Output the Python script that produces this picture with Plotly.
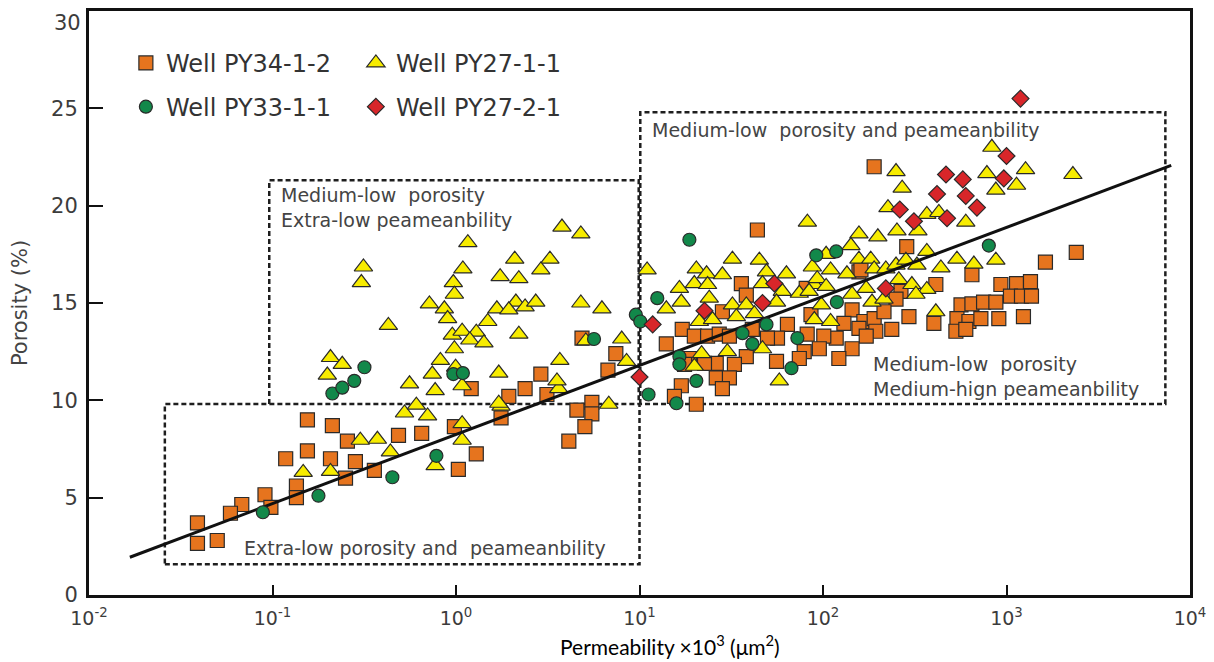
import plotly.graph_objects as go

# ---------------- data (permeability x10^3 um^2, porosity %) ----------------
py34_k = [0.155, 0.212, 0.256, 0.118, 0.155, 0.207, 0.283, 0.250, 0.359, 0.135, 0.135, 0.091,
          0.098, 0.068, 0.059, 0.039, 0.039, 0.050, 0.486, 0.65, 0.98, 1.29, 1.03, 1.21, 1.94,
          2.38, 3.13, 1.76, 4.56, 5.5, 5.5, 5.04, 4.12, 4.86, 7.43, 6.73, 2.90, 35.9, 38.2, 28.3,
          17.1, 14.0, 19.9, 23.5, 27.2, 30.9, 41.2, 64, 56.5, 82, 86, 79, 55.8, 38.2, 32.9, 26.2,
          22.6, 26.2, 30.9, 28.3, 18.7, 16.9, 15.5, 20.4, 17.6, 74.3, 49.8, 157, 266, 412, 648,
          250, 81, 144, 167, 190, 215, 294, 157, 194, 237, 130, 118, 101, 172, 95.5, 144, 122,
          565, 648, 750, 875, 537, 624, 725, 530, 600, 402, 932, 1134, 1351, 1051, 1207, 1368,
          908, 1237, 1630, 2400, 43.9, 190, 286, 161]
py34_phi = [9.0, 8.7, 7.9, 7.0, 7.4, 7.0, 6.85, 6.0, 6.4, 5.6, 5.0, 5.15,
            4.5, 4.65, 4.2, 3.7, 2.65, 2.8, 8.2, 8.3, 8.65, 7.25, 6.45, 10.6, 10.2,
            10.6, 10.3, 9.1, 9.5, 9.9, 9.3, 8.65, 7.9, 13.2, 12.4, 11.55, 11.35, 16.0, 15.4, 14.55,
            13.65, 12.9, 13.3, 13.3, 13.4, 13.3, 13.65, 13.9, 13.2, 13.4, 14.4, 12.5, 12.0, 12.25, 11.85, 11.9,
            11.9, 11.15, 11.15, 10.6, 12.15, 10.75, 10.2, 9.8, 11.85, 12.15, 13.2, 16.6, 15.6, 15.95, 16.45,
            15.2, 15.75, 14.65, 14.05, 14.2, 14.55, 14.3, 13.7, 13.55, 13.65, 13.95, 13.2, 13.3, 13.3, 12.65, 12.65, 12.15,
            14.9, 14.95, 15.05, 15.05, 14.2, 14.05, 14.2, 13.55, 13.65, 13.95, 15.95, 16.0, 16.1, 15.35, 15.35, 15.35,
            14.2, 14.3, 17.1, 17.6, 18.75, 22.0, 17.9, 16.7]

py27_1_k = [0.147, 0.207, 0.301, 0.373, 0.439, 0.558, 0.77, 1.08, 0.524, 0.608, 0.70, 1.08, 1.08,
            0.77, 1.76, 3.63, 6.8, 0.313, 0.305, 0.428, 0.207, 0.24, 0.199, 0.716, 0.864, 0.967,
            0.98, 0.90, 0.955, 0.98, 0.822, 0.995, 0.743, 3.78, 4.79, 1.16, 2.09, 3.25, 1.09, 1.74,
            2.2, 2.9, 1.67, 2.12, 2.38, 2.72, 1.94, 4.79, 6.24, 1.49, 1.08, 1.29, 1.19, 1.42, 2.2,
            3.68, 1.71, 3.55, 8.0, 8.5, 11.0, 5.1, 1.71, 32.1, 45.0, 20.4, 23.2, 28.3, 19.9, 23.5,
            16.5, 16.9, 14.0, 24.0, 49.2, 63.2, 46.8, 60, 74.3, 55.8, 32.1, 38.2, 33.7, 42.3, 21.2,
            25.0, 89.7, 89.7, 21.8, 30.1, 46.8, 19.9, 57.8, 104, 87.5, 110, 135, 157, 182, 190, 220,
            250, 283, 325, 368, 439, 537, 664, 875, 93, 104, 84, 144, 172, 259, 305, 368, 185, 215,
            321, 98, 110, 412, 832, 250, 782, 1270, 270, 875, 1134, 226, 368, 428, 600, 253, 329,
            157, 199, 142, 2300, 82.2]
py27_1_phi = [6.3, 6.35, 7.95, 8.0, 7.35, 10.85, 10.5, 10.75, 9.35, 9.75, 9.2, 8.8, 7.95,
              6.65, 9.7, 10.6, 9.8, 16.85, 16.05, 13.85, 12.2, 11.85, 11.3, 14.95, 14.7, 16.05,
              15.45, 14.2, 13.35, 12.65, 12.05, 11.7, 11.35, 18.9, 18.55, 18.1, 17.25, 17.25, 16.75, 16.35,
              16.25, 16.7, 14.7, 15.05, 14.8, 15.05, 14.65, 15.0, 14.7, 14.05, 13.55, 13.5, 13.1, 12.95, 13.4,
              12.05, 11.4, 11.0, 13.15, 12.0, 16.7, 13.05, 9.85, 17.25, 17.2, 16.75, 16.5, 16.45, 16.0, 15.95,
              15.75, 15.05, 14.7, 15.25, 16.6, 16.5, 16.0, 15.6, 15.5, 15.05, 14.9, 14.9, 14.3, 14.45, 14.05,
              14.15, 15.95, 14.15, 12.4, 12.5, 12.65, 11.75, 11.0, 17.5, 16.85, 16.7, 16.5, 17.25, 17.25, 16.75, 16.75,
              16.95, 17.2, 16.95, 17.65, 16.8, 17.25, 17.0, 17.2, 16.25, 15.85, 15.6, 15.45, 15.75, 16.2, 15.95, 15.7, 15.05, 15.2,
              15.45, 14.9, 14.05, 14.55, 23.0, 21.75, 21.65, 21.85, 20.9, 20.8, 21.05, 19.9, 19.55, 19.65, 19.15, 18.7, 18.7,
              18.55, 18.4, 17.95, 21.6, 19.15]

py33_k = [0.0886, 0.178, 0.45, 0.782, 0.212, 0.24, 0.279, 0.317, 0.967, 1.09, 5.65, 9.55, 10.1,
          11.2, 12.5, 36.4, 49.2, 41.2, 72.5, 67.3, 16.5, 16.5, 20.4, 15.9, 91.9, 118, 119, 801, 18.7]
py33_phi = [4.25, 5.1, 6.05, 7.15, 10.35, 10.65, 11.0, 11.7, 11.35, 11.4, 13.15, 14.4, 14.05,
            10.3, 15.25, 13.45, 13.9, 12.9, 13.2, 11.65, 12.25, 11.85, 11.0, 9.85, 17.45, 17.65, 15.05, 17.95, 18.25]

py27_2_k = [1192, 1000, 468, 578, 967, 418, 600, 690, 262, 313, 474, 220, 54.3, 46.8, 22.6, 11.8, 10.0]
py27_2_phi = [25.5, 22.55, 21.6, 21.35, 21.4, 20.6, 20.5, 19.9, 19.8, 19.2, 19.35, 15.75, 16.0, 15.0, 14.6, 13.9, 11.2]

# trend line end points (fitted)
trend_k = [0.0167, 7900]
trend_phi = [1.94, 22.07]

# classification boundaries
k_box_a_left = 0.0259
k_box_b_left = 0.096
k_split = 10
k_box_c_right = 7340
phi_box_a_bottom = 1.58
phi_split = 9.81
phi_box_b_top = 21.3
phi_box_c_top = 24.8

tick_vals = [0.01, 0.1, 1, 10, 100, 1000, 10000]
tick_text = ["10<sup>-2</sup>", "10<sup>-1</sup>", "10<sup>0</sup>", "10<sup>1</sup>",
             "10<sup>2</sup>", "10<sup>3</sup>", "10<sup>4</sup>"]
y_tick_vals = [0, 5, 10, 15, 20, 25, 30]
y_tick_text = ["0", "5", "10", "15", "20", "25", ""]
y_top_label = "30"

FONT = "DejaVu Sans"
TXT = "#3c3c3c"
EDGE = "#2a2a2a"

fig = go.Figure()

# dashed classification boxes
box_style = dict(color="#1e1e1e", width=2.5, dash="5px,3px")
boxes = [
    ([k_box_a_left, k_split, k_split, k_box_a_left, k_box_a_left],
     [phi_box_a_bottom, phi_box_a_bottom, phi_split, phi_split, phi_box_a_bottom]),
    ([k_box_b_left, k_box_b_left, k_split * 0.99, k_split * 0.99],
     [phi_split, phi_box_b_top, phi_box_b_top, phi_split]),
    ([k_split * 1.01, k_split * 1.01, k_box_c_right, k_box_c_right, k_split * 1.01],
     [phi_split, phi_box_c_top, phi_box_c_top, phi_split, phi_split]),
]
for bx, by in boxes:
    fig.add_trace(go.Scatter(x=bx, y=by, mode="lines", line=box_style,
                             showlegend=False, hoverinfo="skip"))

fig.add_trace(go.Scatter(
    x=py34_k, y=py34_phi, mode="markers", name="Well PY34-1-2", legend="legend",
    marker=dict(symbol="square", size=14, color="#E6741E", line=dict(color=EDGE, width=1.2))))
fig.add_trace(go.Scatter(
    x=py27_1_k, y=py27_1_phi, mode="markers", name="Well PY27-1-1", legend="legend",
    marker=dict(symbol="triangle-up", size=16, color="#F7EC00", line=dict(color=EDGE, width=1.2))))
fig.add_trace(go.Scatter(
    x=trend_k, y=trend_phi, mode="lines", line=dict(color="#111111", width=3),
    showlegend=False, hoverinfo="skip"))
fig.add_trace(go.Scatter(
    x=py33_k, y=py33_phi, mode="markers", name="Well PY33-1-1", legend="legend2",
    marker=dict(symbol="circle", size=13, color="#12884A", line=dict(color=EDGE, width=1.2))))
fig.add_trace(go.Scatter(
    x=py27_2_k, y=py27_2_phi, mode="markers", name="Well PY27-2-1", legend="legend2",
    marker=dict(symbol="diamond", size=13, color="#D8262A", line=dict(color=EDGE, width=1.2))))

NB = "\u00a0"
ann_font = dict(family=FONT, size=19, color="#444444")
annotations = [
    dict(text="Medium-low" + NB + " porosity<br>Extra-low peameanbility", x=0.173, y=0.6635,
         xanchor="left", yanchor="middle", align="left"),
    dict(text="Extra-low porosity and" + NB + " peameanbility", x=0.1387, y=0.080,
         xanchor="left", yanchor="middle", align="left"),
    dict(text="Medium-low" + NB + " porosity and peameanbility", x=0.5095, y=0.7956,
         xanchor="left", yanchor="middle", align="left"),
    dict(text="Medium-low" + NB + " porosity<br>Medium-hign peameanbility", x=0.7099, y=0.3748,
         xanchor="left", yanchor="middle", align="left"),
]
for a in annotations:
    a.update(xref="paper", yref="paper", showarrow=False, font=ann_font)
annotations.append(dict(
    text="Permeability ×10<sup>3</sup> (μm<sup>2</sup>)", xref="paper", yref="paper",
    x=0.528, y=-0.0852, xanchor="center", yanchor="middle", showarrow=False,
    font=dict(family="Lato", size=21, color="#000000")))
# top y tick label, drawn just under the frame like the reference
annotations.append(dict(
    text=y_top_label, xref="paper", yref="y", x=0, y=y_tick_vals[-1], xanchor="right",
    yanchor="middle", xshift=-6, yshift=-12, showarrow=False,
    font=dict(family=FONT, size=21, color=TXT)))

legend_common = dict(orientation="h", xanchor="left", yanchor="top", bgcolor="rgba(0,0,0,0)",
                     font=dict(family=FONT, size=24, color="#333333"), entrywidth=185,
                     itemclick=False, itemdoubleclick=False)

fig.update_layout(
    width=1214, height=662,
    margin=dict(l=89, r=22, t=8, b=67),
    paper_bgcolor="white", plot_bgcolor="white",
    showlegend=True,
    legend=dict(x=0.0335, y=0.9490, **legend_common),
    legend2=dict(x=0.0335, y=0.8740, **legend_common),
    annotations=annotations,
    xaxis=dict(type="log", range=[-2, 4], tickvals=tick_vals, ticktext=tick_text,
               ticks="inside", ticklen=10, tickwidth=1.5, tickcolor="#111",
               showline=True, linewidth=3, linecolor="#111", mirror=True,
               showgrid=False, zeroline=False, ticklabelstandoff=4,
               tickfont=dict(family=FONT, size=19, color=TXT)),
    yaxis=dict(range=[0, 30], tickvals=y_tick_vals, ticktext=y_tick_text,
               ticks="inside", ticklen=14, tickwidth=1.5, tickcolor="#111",
               showline=True, linewidth=3, linecolor="#111", mirror=True,
               showgrid=False, zeroline=False, ticklabelstandoff=4,
               tickfont=dict(family=FONT, size=21, color=TXT),
               title=dict(text="Porosity (%)", standoff=18,
                          font=dict(family=FONT, size=21, color="#444444"))),
)

fig.write_html("out.html", config={"displayModeBar": False},
               post_script="document.body.style.margin='0';document.body.style.overflow='hidden';")
